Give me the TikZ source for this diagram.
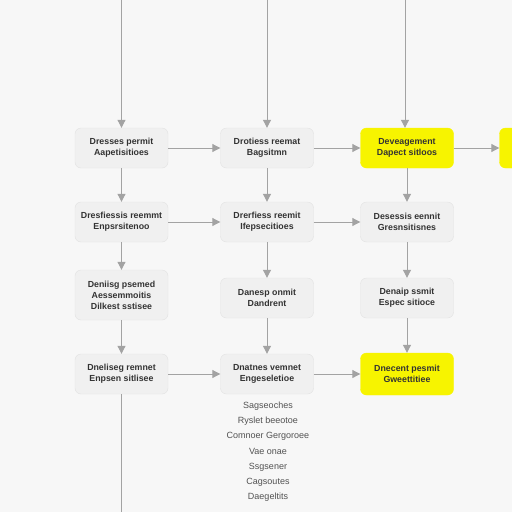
\documentclass[tikz,border=0pt]{standalone}
\usepackage{fontspec}
\setmainfont{Liberation Sans}
\usetikzlibrary{arrows.meta,positioning}

\definecolor{boxgray}{HTML}{F0F0F0}
\definecolor{edgegray}{HTML}{E2E2E2}
\definecolor{hiyellow}{HTML}{F7F400}
\definecolor{linegray}{HTML}{A3A3A3}
\definecolor{txtgray}{HTML}{333333}

\begin{document}
\begin{tikzpicture}[x=1pt, y=-1pt,
  stage/.style={rectangle, rounded corners=6pt, draw=edgegray, fill=boxgray,
    minimum width=93pt, minimum height=40pt, align=center,
    font=\fontsize{8.8}{11}\selectfont\bfseries, text=txtgray, inner sep=1pt},
  hilite/.style={stage, draw=hiyellow, fill=hiyellow},
  listitem/.style={font=\fontsize{9}{10}\selectfont, text=txtgray!85},
  arr/.style={-{Triangle[length=8pt,width=8pt]}, draw=linegray, line width=1pt},
  wire/.style={draw=linegray, line width=1pt}
]
  \fill[white!97!black] (0,0) rectangle (512,512);
  \clip (0,0) rectangle (512,512);

  % row 1
  \node[stage]  (a1) at (121.5,148) {Dresses permit\\Aapetisitioes};
  \node[stage]  (b1) at (267,148) {Drotiess reemat\\Bagsitmn};
  \node[hilite] (c1) at (407,148) {Deveagement\\Dapect sitloos};
  \node[hilite] (d1) at (546,148) {};
  % row 2
  \node[stage]  (a2) at (121.5,222) {Dresfiessis reemmt\\Enpsrsitenoo};
  \node[stage]  (b2) at (267,222) {Drerfiess reemit\\Ifepsecitioes};
  \node[stage]  (c2) at (407,222) {Desessis eennit\\Gresnsitisnes};
  % row 3
  \node[stage, minimum height=50pt] (a3) at (121.5,295) {Deniisg psemed\\Aessemmoitis\\Dilkest sstisee};
  \node[stage]  (b3) at (267,298) {Danesp onmit\\Dandrent};
  \node[stage]  (c3) at (407,298) {Denaip ssmit\\Espec sitioce};
  % row 4
  \node[stage]  (a4) at (121.5,374) {Dneliseg remnet\\Enpsen sitlisee};
  \node[stage]  (b4) at (267,374) {Dnatnes vemnet\\Engeseletioe};
  \node[hilite, minimum height=42pt] (c4) at (407,374) {Dnecent pesmit\\Gweettitiee};

  % feeds from the top
  \coordinate (ta) at (121.5,0);
  \coordinate (tb) at (267,0);
  \coordinate (tc) at (405,0);
  \draw[arr] (ta) -- (a1);
  \draw[arr] (tb) -- (b1);
  \draw[arr] (tc) -- (tc |- c1.north);

  % down the columns
  \draw[arr] (a1) -- (a2);
  \draw[arr] (a2) -- (a3);
  \draw[arr] (a3) -- (a4);
  \draw[arr] (b1) -- (b2);
  \draw[arr] (b2) -- (b3);
  \draw[arr] (b3) -- (b4);
  \draw[arr] (c1) -- (c2);
  \draw[arr] (c2) -- (c3);
  \draw[arr] (c3) -- (c4);

  % across the rows
  \draw[arr] (a1) -- (b1);
  \draw[arr] (b1) -- (c1);
  \draw[arr] (c1) -- (d1);
  \draw[arr] (a2) -- (b2);
  \draw[arr] (b2) -- (c2);
  \draw[arr] (a4) -- (b4);
  \draw[arr] (b4) -- (c4);

  \coordinate (ba) at (121.5,512);
  \draw[wire] (a4) -- (ba);

  % list under the middle column
  \foreach \txt [count=\i] in {Sagseoches, Ryslet beeotoe, Comnoer Gergoroee,
      Vae onae, Ssgsener, Cagsoutes, Daegeltits}
    \node[listitem] (l\i) at (268,391+15.2*\i) {\txt};
\end{tikzpicture}
\end{document}
